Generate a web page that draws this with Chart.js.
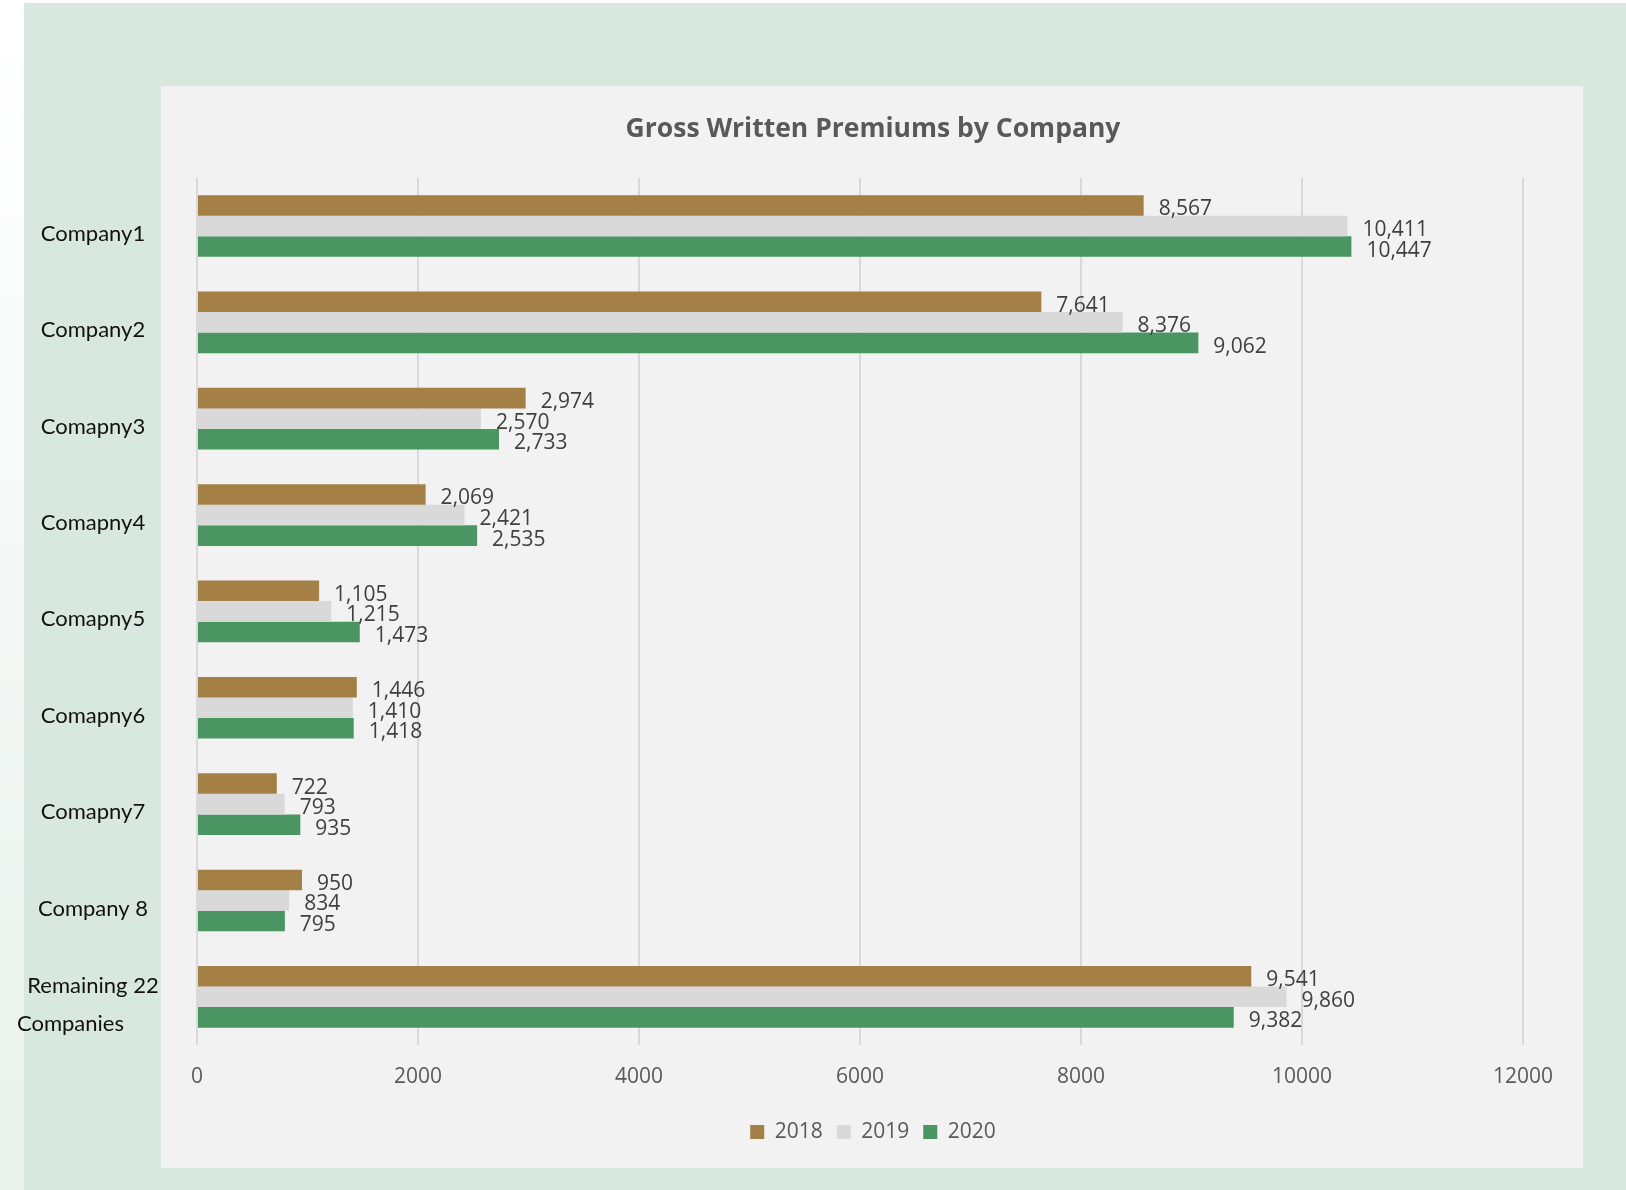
<!DOCTYPE html>
<html>
<head>
<meta charset="utf-8">
<title>Gross Written Premiums by Company</title>
<script src="https://cdn.jsdelivr.net/npm/chart.js@4.4.1/dist/chart.umd.min.js"></script>
<style>
    html, body {
        margin: 0;
        padding: 0;
    }
    body {
        width: 1626px;
        height: 1190px;
        position: relative;
        overflow: hidden;
        background: linear-gradient(to bottom, #ffffff 0%, #f4f8f6 50%, #e8f1ec 100%);
    }
    #greenBg {
        position: absolute;
        left: 24px;
        top: 3px;
        right: 0;
        bottom: 0;
        background: #d8e8df;
    }
    #panel {
        position: absolute;
        left: 161px;
        top: 86px;
        width: 1422px;
        height: 1082px;
        background: #f2f2f2;
    }
    #premiumChart {
        position: absolute;
        left: 0;
        top: 0;
    }
</style>
</head>
<body>
<div id="greenBg"></div>
<div id="panel"></div>
<canvas id="premiumChart" width="1626" height="1190"></canvas>

<script>
// Chart data
const companies = [
    'Company1', 'Company2', 'Comapny3', 'Comapny4', 'Comapny5',
    'Comapny6', 'Comapny7', 'Company 8', ['Remaining 22', 'Companies        ']
];
const years = ['2018', '2019', '2020'];
const premiums2018 = [8567, 7641, 2974, 2069, 1105, 1446, 722, 950, 9541];
const premiums2019 = [10411, 8376, 2570, 2421, 1215, 1410, 793, 834, 9860];
const premiums2020 = [10447, 9062, 2733, 2535, 1473, 1418, 935, 795, 9382];
const xTicks = [0, 2000, 4000, 6000, 8000, 10000, 12000];

// Value labels at the end of each bar
const valueLabels = {
    id: 'valueLabels',
    afterDatasetsDraw(chart) {
        const ctx = chart.ctx;
        ctx.save();
        ctx.font = '21px "Open Sans"';
        ctx.fillStyle = '#404040';
        ctx.textAlign = 'left';
        ctx.textBaseline = 'middle';
        chart.data.datasets.forEach((ds, i) => {
            chart.getDatasetMeta(i).data.forEach((bar, j) => {
                ctx.fillText(ds.data[j].toLocaleString('en-US'), bar.x + 15, bar.y + 4);
            });
        });
        ctx.restore();
    }
};

function initializeChart() {
    const ctx = document.getElementById('premiumChart');
    new Chart(ctx, {
        type: 'bar',
        data: {
            labels: companies,
            datasets: [
                {
                    label: years[0],
                    data: premiums2018,
                    backgroundColor: '#a47f46'
                },
                {
                    label: years[1],
                    data: premiums2019,
                    backgroundColor: '#d9d9d9'
                },
                {
                    label: years[2],
                    data: premiums2020,
                    backgroundColor: '#4a9562'
                }
            ]
        },
        options: {
            indexAxis: 'y',
            responsive: false,
            animation: false,
            categoryPercentage: 0.64,
            barPercentage: 1,
            // negative right padding keeps title and legend centred over the panel
            layout: {
                padding: { left: 0, right: -120, top: 100, bottom: 37.5 }
            },
            scales: {
                x: {
                    min: 0,
                    max: 12000,
                    afterBuildTicks: function(scale) {
                        scale.ticks = xTicks.map(v => ({ value: v }));
                    },
                    afterFit: function(scale) {
                        scale.height = 62.5;
                    },
                    grid: {
                        color: '#d9d9d9',
                        lineWidth: 2,
                        drawTicks: false
                    },
                    border: { display: false },
                    ticks: {
                        padding: 19,
                        color: '#595959',
                        font: { family: 'Open Sans', size: 21 },
                        callback: function(value) {
                            return String(value);
                        }
                    }
                },
                y: {
                    afterFit: function(scale) {
                        scale.width = 197;
                    },
                    grid: { display: false },
                    border: { display: false },
                    ticks: {
                        crossAlign: 'center',
                        padding: 20,
                        labelOffset: 8,
                        color: '#111111',
                        font: { family: 'Lato', size: 22, lineHeight: 1.73 }
                    }
                },
                yRight: {
                    type: 'category',
                    position: 'right',
                    axis: 'y',
                    afterFit: function(scale) {
                        scale.width = 223;
                    },
                    grid: { display: false },
                    border: { display: false },
                    ticks: { display: false }
                }
            },
            plugins: {
                title: {
                    display: true,
                    text: 'Gross Written Premiums by Company',
                    color: '#595959',
                    font: { family: 'Open Sans', size: 26.5, weight: 'bold', lineHeight: 1.2 },
                    padding: { top: 14, bottom: 32 }
                },
                legend: {
                    position: 'bottom',
                    labels: {
                        boxWidth: 14,
                        boxHeight: 14,
                        padding: 14,
                        color: '#595959',
                        font: { family: 'Open Sans', size: 21 }
                    }
                },
                tooltip: { enabled: false }
            }
        },
        plugins: [valueLabels]
    });
}

document.fonts.load('21px "Open Sans"').then(function() {
    return document.fonts.load('22px Lato');
}).then(initializeChart, initializeChart);
</script>
</body>
</html>
